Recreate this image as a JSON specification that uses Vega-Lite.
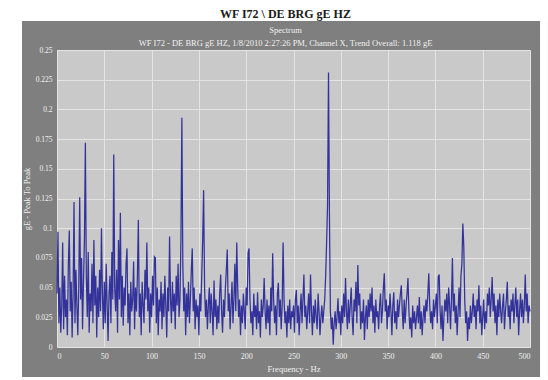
{
  "$schema": "https://vega.github.io/schema/vega-lite/v6.json",
  "width": 473,
  "height": 297,
  "autosize": {"type": "none"},
  "padding": {"left": 57, "top": 50, "right": 18, "bottom": 33},
  "background": "#7f7f7f",
  "title": {
    "text": "WF I72 \\ DE BRG gE HZ",
    "subtitle": ["Spectrum", "WF I72 - DE BRG gE HZ, 1/8/2010 2:27:26 PM, Channel X, Trend Overall: 1.118 gE"],
    "anchor": "middle",
    "frame": "group",
    "font": "Liberation Serif",
    "fontSize": 12,
    "fontWeight": "bold",
    "color": "#1a1a1a",
    "subtitleFont": "Liberation Serif",
    "subtitleFontSize": 8.5,
    "subtitleColor": "#f0f0f0",
    "subtitlePadding": 5,
    "subtitleLineHeight": 13,
    "offset": -49,
    "dx": -8
  },
  "config": {
    "view": {"fill": "#c9c9c9", "stroke": null},
    "axis": {
      "domain": false, "ticks": false, "labelOverlap": false,
      "grid": true, "gridColor": "#e4e4e4", "gridWidth": 1,
      "labelFont": "Liberation Serif", "labelFontSize": 8, "labelColor": "#f0f0f0", "labelPadding": 5,
      "titleFont": "Liberation Serif", "titleFontSize": 8.5, "titleFontWeight": "normal", "titleColor": "#f0f0f0", "titlePadding": 4
    },
    "axisY": {"labelFontSize": 7.5}
  },
  "resolve": {"axis": {"x": "independent", "y": "independent"}},
  "layer": [
    {
      "data": {"values": [
        {"f":0,"v":0.045},{"f":1,"v":0.097},{"f":2,"v":0.02},{"f":3,"v":0.05},{"f":4,"v":0.012},{"f":5,"v":0.035},{"f":6,"v":0.088},{"f":7,"v":0.015},{"f":8,"v":0.06},{"f":9,"v":0.025},
        {"f":10,"v":0.04},{"f":11,"v":0.01},{"f":12,"v":0.07},{"f":13,"v":0.098},{"f":14,"v":0.03},{"f":15,"v":0.055},{"f":16,"v":0.008},{"f":17,"v":0.045},{"f":18,"v":0.122},{"f":19,"v":0.02},
        {"f":20,"v":0.065},{"f":21,"v":0.035},{"f":22,"v":0.01},{"f":23,"v":0.05},{"f":24,"v":0.126},{"f":25,"v":0.04},{"f":26,"v":0.075},{"f":27,"v":0.015},{"f":28,"v":0.055},{"f":29,"v":0.09},
        {"f":30,"v":0.172},{"f":31,"v":0.06},{"f":32,"v":0.025},{"f":33,"v":0.08},{"f":34,"v":0.012},{"f":35,"v":0.045},{"f":36,"v":0.03},{"f":37,"v":0.07},{"f":38,"v":0.02},{"f":39,"v":0.09},
        {"f":40,"v":0.035},{"f":41,"v":0.06},{"f":42,"v":0.008},{"f":43,"v":0.05},{"f":44,"v":0.025},{"f":45,"v":0.065},{"f":46,"v":0.03},{"f":47,"v":0.1},{"f":48,"v":0.045},{"f":49,"v":0.015},
        {"f":50,"v":0.055},{"f":51,"v":0.02},{"f":52,"v":0.07},{"f":53,"v":0.035},{"f":54,"v":0.005},{"f":55,"v":0.045},{"f":56,"v":0.06},{"f":57,"v":0.02},{"f":58,"v":0.08},{"f":59,"v":0.04},
        {"f":60,"v":0.162},{"f":61,"v":0.05},{"f":62,"v":0.03},{"f":63,"v":0.065},{"f":64,"v":0.012},{"f":65,"v":0.09},{"f":66,"v":0.04},{"f":67,"v":0.113},{"f":68,"v":0.025},{"f":69,"v":0.06},
        {"f":70,"v":0.018},{"f":71,"v":0.05},{"f":72,"v":0.035},{"f":73,"v":0.07},{"f":74,"v":0.083},{"f":75,"v":0.02},{"f":76,"v":0.045},{"f":77,"v":0.01},{"f":78,"v":0.055},{"f":79,"v":0.03},
        {"f":80,"v":0.04},{"f":81,"v":0.072},{"f":82,"v":0.015},{"f":83,"v":0.05},{"f":84,"v":0.03},{"f":85,"v":0.06},{"f":86,"v":0.107},{"f":87,"v":0.025},{"f":88,"v":0.045},{"f":89,"v":0.01},
        {"f":90,"v":0.055},{"f":91,"v":0.035},{"f":92,"v":0.02},{"f":93,"v":0.065},{"f":94,"v":0.04},{"f":95,"v":0.088},{"f":96,"v":0.03},{"f":97,"v":0.05},{"f":98,"v":0.012},{"f":99,"v":0.045},
        {"f":100,"v":0.025},{"f":101,"v":0.06},{"f":102,"v":0.035},{"f":103,"v":0.076},{"f":104,"v":0.075},{"f":105,"v":0.02},{"f":106,"v":0.05},{"f":107,"v":0.01},{"f":108,"v":0.04},{"f":109,"v":0.03},
        {"f":110,"v":0.055},{"f":111,"v":0.015},{"f":112,"v":0.045},{"f":113,"v":0.025},{"f":114,"v":0.06},{"f":115,"v":0.035},{"f":116,"v":0.008},{"f":117,"v":0.05},{"f":118,"v":0.03},{"f":119,"v":0.093},
        {"f":120,"v":0.04},{"f":121,"v":0.02},{"f":122,"v":0.055},{"f":123,"v":0.03},{"f":124,"v":0.045},{"f":125,"v":0.015},{"f":126,"v":0.06},{"f":127,"v":0.035},{"f":128,"v":0.07},{"f":129,"v":0.025},
        {"f":130,"v":0.04},{"f":131,"v":0.09},{"f":132,"v":0.193},{"f":133,"v":0.07},{"f":134,"v":0.03},{"f":135,"v":0.05},{"f":136,"v":0.01},{"f":137,"v":0.045},{"f":138,"v":0.025},{"f":139,"v":0.055},
        {"f":140,"v":0.02},{"f":141,"v":0.04},{"f":142,"v":0.065},{"f":143,"v":0.083},{"f":144,"v":0.03},{"f":145,"v":0.05},{"f":146,"v":0.015},{"f":147,"v":0.04},{"f":148,"v":0.025},{"f":149,"v":0.035},
        {"f":150,"v":0.01},{"f":151,"v":0.045},{"f":152,"v":0.03},{"f":153,"v":0.06},{"f":154,"v":0.09},{"f":155,"v":0.132},{"f":156,"v":0.05},{"f":157,"v":0.025},{"f":158,"v":0.04},{"f":159,"v":0.015},
        {"f":160,"v":0.035},{"f":161,"v":0.05},{"f":162,"v":0.02},{"f":163,"v":0.045},{"f":164,"v":0.03},{"f":165,"v":0.01},{"f":166,"v":0.056},{"f":167,"v":0.025},{"f":168,"v":0.04},{"f":169,"v":0.015},
        {"f":170,"v":0.035},{"f":171,"v":0.02},{"f":172,"v":0.045},{"f":173,"v":0.061},{"f":174,"v":0.03},{"f":175,"v":0.012},{"f":176,"v":0.04},{"f":177,"v":0.025},{"f":178,"v":0.05},{"f":179,"v":0.065},
        {"f":180,"v":0.082},{"f":181,"v":0.03},{"f":182,"v":0.045},{"f":183,"v":0.015},{"f":184,"v":0.035},{"f":185,"v":0.055},{"f":186,"v":0.02},{"f":187,"v":0.04},{"f":188,"v":0.07},{"f":189,"v":0.03},
        {"f":190,"v":0.088},{"f":191,"v":0.05},{"f":192,"v":0.025},{"f":193,"v":0.04},{"f":194,"v":0.01},{"f":195,"v":0.035},{"f":196,"v":0.02},{"f":197,"v":0.045},{"f":198,"v":0.03},{"f":199,"v":0.015},
        {"f":200,"v":0.05},{"f":201,"v":0.035},{"f":202,"v":0.079},{"f":203,"v":0.083},{"f":204,"v":0.04},{"f":205,"v":0.02},{"f":206,"v":0.03},{"f":207,"v":0.01},{"f":208,"v":0.045},{"f":209,"v":0.025},
        {"f":210,"v":0.035},{"f":211,"v":0.015},{"f":212,"v":0.046},{"f":213,"v":0.02},{"f":214,"v":0.03},{"f":215,"v":0.008},{"f":216,"v":0.04},{"f":217,"v":0.025},{"f":218,"v":0.035},{"f":219,"v":0.058},
        {"f":220,"v":0.03},{"f":221,"v":0.015},{"f":222,"v":0.04},{"f":223,"v":0.02},{"f":224,"v":0.035},{"f":225,"v":0.01},{"f":226,"v":0.05},{"f":227,"v":0.03},{"f":228,"v":0.079},{"f":229,"v":0.04},
        {"f":230,"v":0.02},{"f":231,"v":0.035},{"f":232,"v":0.01},{"f":233,"v":0.045},{"f":234,"v":0.054},{"f":235,"v":0.025},{"f":236,"v":0.04},{"f":237,"v":0.015},{"f":238,"v":0.035},{"f":239,"v":0.088},
        {"f":240,"v":0.04},{"f":241,"v":0.02},{"f":242,"v":0.03},{"f":243,"v":0.008},{"f":244,"v":0.035},{"f":245,"v":0.02},{"f":246,"v":0.04},{"f":247,"v":0.015},{"f":248,"v":0.03},{"f":249,"v":0.025},
        {"f":250,"v":0.035},{"f":251,"v":0.012},{"f":252,"v":0.04},{"f":253,"v":0.048},{"f":254,"v":0.02},{"f":255,"v":0.035},{"f":256,"v":0.01},{"f":257,"v":0.03},{"f":258,"v":0.045},{"f":259,"v":0.02},
        {"f":260,"v":0.04},{"f":261,"v":0.061},{"f":262,"v":0.025},{"f":263,"v":0.035},{"f":264,"v":0.015},{"f":265,"v":0.03},{"f":266,"v":0.045},{"f":267,"v":0.02},{"f":268,"v":0.061},{"f":269,"v":0.03},
        {"f":270,"v":0.01},{"f":271,"v":0.035},{"f":272,"v":0.02},{"f":273,"v":0.04},{"f":274,"v":0.025},{"f":275,"v":0.015},{"f":276,"v":0.045},{"f":277,"v":0.03},{"f":278,"v":0.01},{"f":279,"v":0.025},
        {"f":280,"v":0.035},{"f":281,"v":0.02},{"f":282,"v":0.03},{"f":283,"v":0.04},{"f":284,"v":0.06},{"f":285,"v":0.088},{"f":286,"v":0.12},{"f":287,"v":0.231},{"f":288,"v":0.11},{"f":289,"v":0.03},
        {"f":290,"v":0.015},{"f":291,"v":0.025},{"f":292,"v":0.002},{"f":293,"v":0.02},{"f":294,"v":0.03},{"f":295,"v":0.015},{"f":296,"v":0.025},{"f":297,"v":0.041},{"f":298,"v":0.02},{"f":299,"v":0.03},
        {"f":300,"v":0.01},{"f":301,"v":0.035},{"f":302,"v":0.02},{"f":303,"v":0.045},{"f":304,"v":0.025},{"f":305,"v":0.058},{"f":306,"v":0.03},{"f":307,"v":0.015},{"f":308,"v":0.04},{"f":309,"v":0.02},
        {"f":310,"v":0.035},{"f":311,"v":0.05},{"f":312,"v":0.025},{"f":313,"v":0.01},{"f":314,"v":0.04},{"f":315,"v":0.03},{"f":316,"v":0.055},{"f":317,"v":0.02},{"f":318,"v":0.069},{"f":319,"v":0.035},
        {"f":320,"v":0.045},{"f":321,"v":0.015},{"f":322,"v":0.03},{"f":323,"v":0.02},{"f":324,"v":0.04},{"f":325,"v":0.006},{"f":326,"v":0.025},{"f":327,"v":0.035},{"f":328,"v":0.015},{"f":329,"v":0.04},
        {"f":330,"v":0.025},{"f":331,"v":0.045},{"f":332,"v":0.03},{"f":333,"v":0.05},{"f":334,"v":0.02},{"f":335,"v":0.035},{"f":336,"v":0.012},{"f":337,"v":0.04},{"f":338,"v":0.025},{"f":339,"v":0.03},
        {"f":340,"v":0.015},{"f":341,"v":0.035},{"f":342,"v":0.045},{"f":343,"v":0.02},{"f":344,"v":0.03},{"f":345,"v":0.05},{"f":346,"v":0.062},{"f":347,"v":0.03},{"f":348,"v":0.04},{"f":349,"v":0.015},
        {"f":350,"v":0.035},{"f":351,"v":0.025},{"f":352,"v":0.045},{"f":353,"v":0.03},{"f":354,"v":0.01},{"f":355,"v":0.035},{"f":356,"v":0.046},{"f":357,"v":0.02},{"f":358,"v":0.03},{"f":359,"v":0.015},
        {"f":360,"v":0.04},{"f":361,"v":0.025},{"f":362,"v":0.035},{"f":363,"v":0.045},{"f":364,"v":0.052},{"f":365,"v":0.03},{"f":366,"v":0.015},{"f":367,"v":0.04},{"f":368,"v":0.02},{"f":369,"v":0.035},
        {"f":370,"v":0.045},{"f":371,"v":0.058},{"f":372,"v":0.03},{"f":373,"v":0.015},{"f":374,"v":0.025},{"f":375,"v":0.008},{"f":376,"v":0.035},{"f":377,"v":0.02},{"f":378,"v":0.03},{"f":379,"v":0.015},
        {"f":380,"v":0.025},{"f":381,"v":0.035},{"f":382,"v":0.02},{"f":383,"v":0.042},{"f":384,"v":0.015},{"f":385,"v":0.03},{"f":386,"v":0.01},{"f":387,"v":0.025},{"f":388,"v":0.035},{"f":389,"v":0.02},
        {"f":390,"v":0.04},{"f":391,"v":0.03},{"f":392,"v":0.045},{"f":393,"v":0.062},{"f":394,"v":0.035},{"f":395,"v":0.02},{"f":396,"v":0.03},{"f":397,"v":0.015},{"f":398,"v":0.04},{"f":399,"v":0.025},
        {"f":400,"v":0.035},{"f":401,"v":0.045},{"f":402,"v":0.02},{"f":403,"v":0.059},{"f":404,"v":0.061},{"f":405,"v":0.03},{"f":406,"v":0.015},{"f":407,"v":0.035},{"f":408,"v":0.005},{"f":409,"v":0.025},
        {"f":410,"v":0.04},{"f":411,"v":0.03},{"f":412,"v":0.045},{"f":413,"v":0.02},{"f":414,"v":0.05},{"f":415,"v":0.035},{"f":416,"v":0.015},{"f":417,"v":0.04},{"f":418,"v":0.075},{"f":419,"v":0.03},
        {"f":420,"v":0.045},{"f":421,"v":0.02},{"f":422,"v":0.035},{"f":423,"v":0.01},{"f":424,"v":0.03},{"f":425,"v":0.05},{"f":426,"v":0.025},{"f":427,"v":0.06},{"f":428,"v":0.07},{"f":429,"v":0.104},
        {"f":430,"v":0.085},{"f":431,"v":0.04},{"f":432,"v":0.02},{"f":433,"v":0.03},{"f":434,"v":0.005},{"f":435,"v":0.025},{"f":436,"v":0.015},{"f":437,"v":0.035},{"f":438,"v":0.02},{"f":439,"v":0.03},
        {"f":440,"v":0.045},{"f":441,"v":0.025},{"f":442,"v":0.035},{"f":443,"v":0.015},{"f":444,"v":0.04},{"f":445,"v":0.03},{"f":446,"v":0.052},{"f":447,"v":0.02},{"f":448,"v":0.035},{"f":449,"v":0.01},
        {"f":450,"v":0.025},{"f":451,"v":0.04},{"f":452,"v":0.015},{"f":453,"v":0.03},{"f":454,"v":0.02},{"f":455,"v":0.045},{"f":456,"v":0.035},{"f":457,"v":0.05},{"f":458,"v":0.025},{"f":459,"v":0.04},
        {"f":460,"v":0.059},{"f":461,"v":0.03},{"f":462,"v":0.045},{"f":463,"v":0.02},{"f":464,"v":0.035},{"f":465,"v":0.01},{"f":466,"v":0.04},{"f":467,"v":0.025},{"f":468,"v":0.045},{"f":469,"v":0.03},
        {"f":470,"v":0.02},{"f":471,"v":0.035},{"f":472,"v":0.045},{"f":473,"v":0.015},{"f":474,"v":0.03},{"f":475,"v":0.04},{"f":476,"v":0.055},{"f":477,"v":0.025},{"f":478,"v":0.035},{"f":479,"v":0.015},
        {"f":480,"v":0.04},{"f":481,"v":0.03},{"f":482,"v":0.045},{"f":483,"v":0.02},{"f":484,"v":0.035},{"f":485,"v":0.05},{"f":486,"v":0.025},{"f":487,"v":0.04},{"f":488,"v":0.01},{"f":489,"v":0.03},
        {"f":490,"v":0.045},{"f":491,"v":0.025},{"f":492,"v":0.04},{"f":493,"v":0.02},{"f":494,"v":0.035},{"f":495,"v":0.061},{"f":496,"v":0.03},{"f":497,"v":0.045},{"f":498,"v":0.02},{"f":499,"v":0.035},
        {"f":500,"v":0.03}
      ]},
      "mark": {"type": "line", "color": "#32329a", "strokeWidth": 1.25},
      "encoding": {
        "x": {
          "field": "f", "type": "quantitative",
          "scale": {"domain": [0, 500], "nice": false},
          "axis": {"values": [0, 50, 100, 150, 200, 250, 300, 350, 400, 450, 500], "title": "Frequency - Hz"}
        },
        "y": {
          "field": "v", "type": "quantitative",
          "scale": {"domain": [0, 0.25], "nice": false},
          "axis": {"values": [0, 0.025, 0.05, 0.075, 0.1, 0.125, 0.15, 0.175, 0.2, 0.225, 0.25], "format": ".3~f", "title": "gE - Peak To Peak"}
        }
      }
    },
    {
      "data": {"values": [{}]},
      "mark": {"type": "rect", "color": "#ffffff", "clip": false},
      "encoding": {
        "x": {"datum": -60.25, "type": "quantitative", "axis": null},
        "x2": {"datum": 519},
        "y": {"datum": 0.2744, "type": "quantitative", "axis": null},
        "y2": {"datum": 0.2921}
      }
    },
    {
      "data": {"values": [{}]},
      "mark": {"type": "rect", "color": "#ffffff", "clip": false},
      "encoding": {
        "x": {"datum": -60.25, "type": "quantitative", "axis": null},
        "x2": {"datum": -37},
        "y": {"datum": -0.0278, "type": "quantitative", "axis": null},
        "y2": {"datum": 0.2921}
      }
    },
    {
      "data": {"values": [{}]},
      "mark": {"type": "rect", "color": "#ffffff", "clip": false},
      "encoding": {
        "x": {"datum": 510.6, "type": "quantitative", "axis": null},
        "x2": {"datum": 519},
        "y": {"datum": -0.0278, "type": "quantitative", "axis": null},
        "y2": {"datum": 0.2921}
      }
    },
    {
      "data": {"values": [{}]},
      "mark": {"type": "rect", "color": "#ffffff", "clip": false},
      "encoding": {
        "x": {"datum": -60.25, "type": "quantitative", "axis": null},
        "x2": {"datum": 519},
        "y": {"datum": -0.0278, "type": "quantitative", "axis": null},
        "y2": {"datum": -0.0253}
      }
    }
  ]
}
